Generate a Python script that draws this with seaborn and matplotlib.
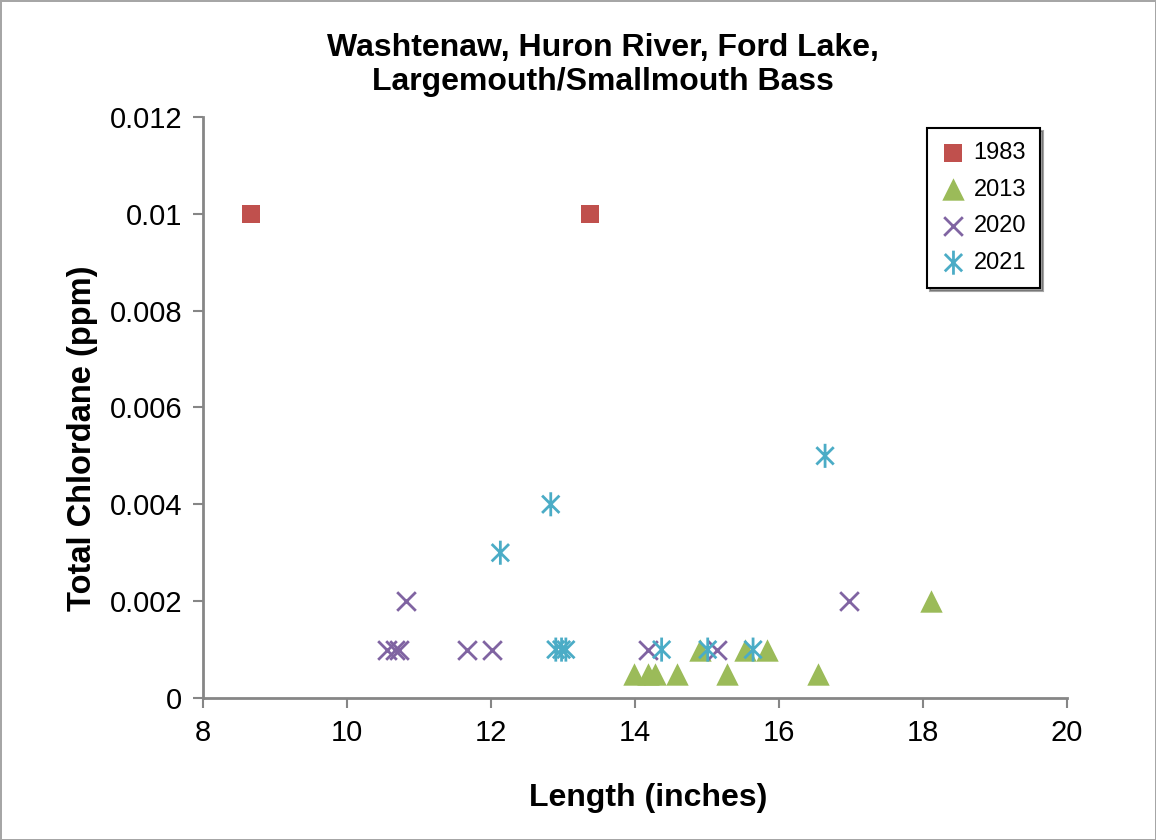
import matplotlib
matplotlib.use("Agg")
import matplotlib.pyplot as plt
import seaborn as sns
import numpy as np
from matplotlib.path import Path
from matplotlib.ticker import MultipleLocator, FuncFormatter

# Dados (comprimento em polegadas, clordano total em ppm)
len_1983 = [8.67, 13.38]
tc_1983 = [0.01, 0.01]

len_2013 = [13.98, 14.18, 14.28, 14.58, 14.90, 15.28, 15.53, 15.83, 16.54, 18.11]
tc_2013 = [0.0005, 0.0005, 0.0005, 0.0005, 0.001, 0.0005, 0.001, 0.001, 0.0005, 0.002]

len_2020 = [10.55, 10.66, 10.72, 10.82, 11.66, 12.01, 14.18, 15.14, 16.97]
tc_2020 = [0.001, 0.001, 0.001, 0.002, 0.001, 0.001, 0.001, 0.001, 0.002]

len_2021 = [12.13, 12.83, 12.90, 12.98, 13.04, 14.37, 15.01, 15.64, 16.64]
tc_2021 = [0.003, 0.004, 0.001, 0.001, 0.001, 0.001, 0.001, 0.001, 0.005]

sns.set_style("ticks")
plt.rcParams['font.family'] = ['Liberation Sans', 'DejaVu Sans']
plt.rcParams['text.color'] = 'black'
plt.rcParams['axes.labelcolor'] = 'black'

# Marcador asterisco (x + linha vertical), estilo Excel
ast = Path([(0, -1), (0, 1), (-0.72, -0.72), (0.72, 0.72), (-0.72, 0.72), (0.72, -0.72)],
           [Path.MOVETO, Path.LINETO] * 3)

fig = plt.figure(figsize=(11.56, 8.40), dpi=100)
fig.patch.set_edgecolor('#a6a6a6')
fig.patch.set_linewidth(2)
ax = fig.add_axes([0.1756, 0.169, 0.7474, 0.692])

sns.scatterplot(x=len_1983, y=tc_1983, ax=ax, marker='s', s=180, color='#C0504D',
                edgecolor='#C0504D', linewidth=0, label='1983', zorder=3)
sns.scatterplot(x=len_2013, y=tc_2013, ax=ax, marker='^', s=260, color='#9BBB59',
                edgecolor='#9BBB59', linewidth=0, label='2013', zorder=3)
sns.scatterplot(x=len_2020, y=tc_2020, ax=ax, marker='x', s=180, color='#8064A2',
                linewidth=2, label='2020', zorder=3)
sns.scatterplot(x=len_2021, y=tc_2021, ax=ax, marker=ast, s=300, color='#4BACC6',
                edgecolor='#4BACC6', facecolor='none', linewidth=2, label='2021', zorder=3)

ax.set_xlim(8, 20)
ax.set_ylim(0, 0.012)
ax.xaxis.set_major_locator(MultipleLocator(2))
ax.yaxis.set_major_locator(MultipleLocator(0.002))
ax.yaxis.set_major_formatter(FuncFormatter(lambda v, p: f'{v:g}'))

sns.despine(ax=ax)
for sp in ['left', 'bottom']:
    ax.spines[sp].set_color('#868686')
    ax.spines[sp].set_linewidth(2)
ax.tick_params(axis='both', colors='#868686', labelcolor='black', labelsize=21,
               length=7, width=1.5, direction='out', pad=8)

ax.set_xlabel('Length (inches)', fontsize=23, fontweight='bold')
ax.xaxis.set_label_coords(0.515, -0.147)
ax.set_ylabel('Total Chlordane (ppm)', fontsize=23.5, fontweight='bold')
ax.yaxis.set_label_coords(-0.122, 0.4475)

fig.text(0.522, 0.961, 'Washtenaw, Huron River, Ford Lake,\nLargemouth/Smallmouth Bass',
         ha='center', va='top', fontsize=23, fontweight='bold', linespacing=1.2)

leg = ax.legend(loc='upper right', bbox_to_anchor=(0.969, 0.981), fontsize=17,
                frameon=True, fancybox=False, shadow=True, edgecolor='black',
                framealpha=1, labelspacing=0.62, handlelength=1.0,
                handletextpad=0.35, borderpad=0.6, borderaxespad=0)
leg.get_frame().set_linewidth(1.5)

plt.savefig('out.png', dpi=100)
plt.close()
